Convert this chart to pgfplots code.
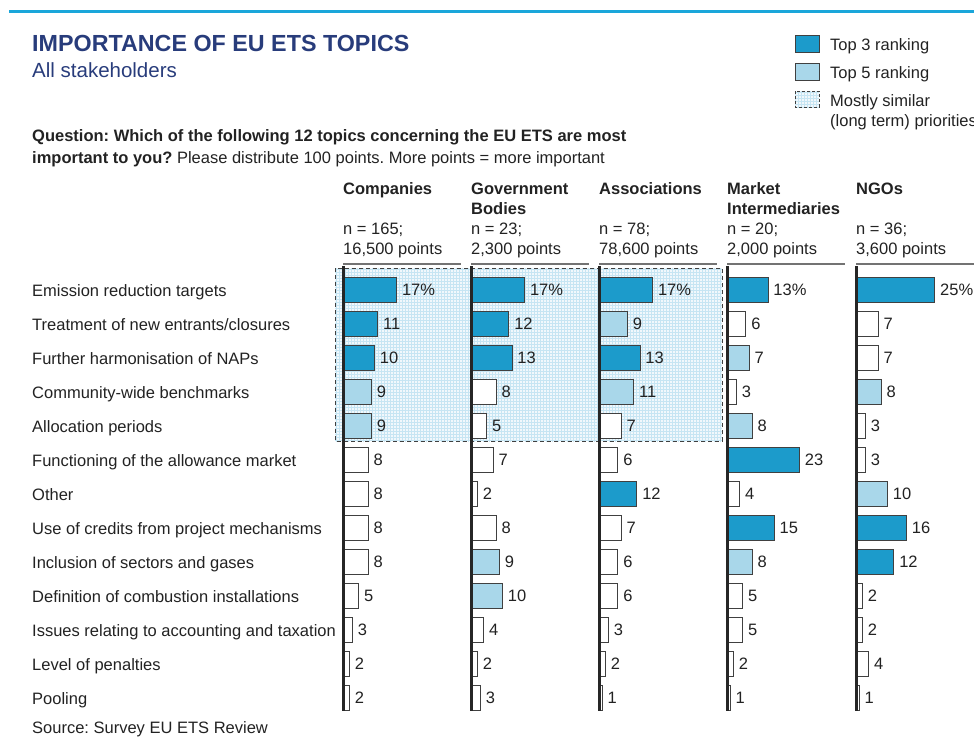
\documentclass[border=0pt]{standalone}
\usepackage{pgfplots}
\pgfplotsset{compat=1.18}
\usetikzlibrary{patterns}
\usepackage{fontspec}
\setmainfont{Liberation Sans}
\frenchspacing
\definecolor{topblue}{HTML}{1C9BCB}
\definecolor{lightblue}{HTML}{A9D7EA}
\definecolor{navy}{HTML}{283C7B}
\definecolor{rulec}{HTML}{1AA6DA}
\definecolor{txt}{HTML}{222222}
\definecolor{hl}{HTML}{F1F8FC}
\definecolor{hlgrid}{HTML}{C6E5F3}
\definecolor{edge}{HTML}{404040}
\newcommand{\fs}{\fontsize{16.5}{20}\selectfont}
\pgfplotsset{
  panel/.style={
    xbar, bar width=25pt,
    x=3.15pt, y=34pt, y dir=reverse,
    xmin=0, xmax=36, ymin=-0.7, ymax=12.4,
    axis y line=left, axis x line=none,
    axis line style={-, line width=3pt, draw=black!85},
    xtick=\empty, ytick=\empty,
    clip=false, axis on top,
    anchor=north west,
    point meta=explicit symbolic,
    nodes near coords,
    nodes near coords style={anchor=west, font=\fs, text=txt, inner sep=0pt, xshift=5pt},
    every axis plot/.append style={bar shift=0pt, draw=edge, line width=0.9pt},
  },
  dk/.style={fill=topblue},
  lt/.style={fill=lightblue},
  wt/.style={fill=white},
}
\begin{document}
\begin{tikzpicture}
\path[use as bounding box] (0,0) rectangle (974pt,-740pt);
% top rule
\draw[rulec, line width=3pt] (9pt,-11pt) -- (974pt,-11pt);
% title
\node[anchor=base west, inner sep=0pt, text=navy, font=\fontsize{23.3}{26}\selectfont\bfseries] at (32pt,-51pt) {IMPORTANCE OF EU ETS TOPICS};
\node[anchor=base west, inner sep=0pt, text=navy, font=\fontsize{20.5}{24}\selectfont] at (32pt,-77pt) {All stakeholders};
% legend
\draw[edge, line width=0.9pt, fill=topblue] (795pt,-35pt) rectangle (819pt,-52pt);
\draw[edge, line width=0.9pt, fill=lightblue] (795pt,-63pt) rectangle (819pt,-80pt);
\draw[edge, line width=0.9pt, dash pattern=on 3pt off 2pt, preaction={fill=hl}, pattern=grid, pattern color=hlgrid] (795pt,-91pt) rectangle (819pt,-107pt);
\node[anchor=base west, inner sep=0pt, text=txt, font=\fs] at (830pt,-50pt) {Top 3 ranking};
\node[anchor=base west, inner sep=0pt, text=txt, font=\fs] at (830pt,-78pt) {Top 5 ranking};
\node[anchor=base west, inner sep=0pt, text=txt, font=\fs] at (830pt,-106pt) {Mostly similar};
\node[anchor=base west, inner sep=0pt, text=txt, font=\fs] at (830pt,-126pt) {(long term) priorities};
% question
\node[anchor=base west, inner sep=0pt, text=txt, font=\fs\bfseries] at (32pt,-141pt) {Question: Which of the following 12 topics concerning the EU ETS are most};
\node[anchor=base west, inner sep=0pt, text=txt, font=\fs] at (32pt,-163pt) {\textbf{important to you?} Please distribute 100 points. More points = more important};
% highlight region
\draw[edge, line width=1pt, dash pattern=on 4pt off 3pt, preaction={fill=hl}, pattern=grid, pattern color=hlgrid] (335pt,-268pt) rectangle (722pt,-441pt);
% panel headers
\foreach \px/\ta/\tb/\na/\nb in {343/Companies//n = 165;/{16,500 points}, 471/Government/Bodies/n = 23;/{2,300 points}, 599/Associations//n = 78;/{78,600 points}, 727/Market/Intermediaries/n = 20;/{2,000 points}, 856/NGOs//n = 36;/{3,600 points}}{
  \node[anchor=base west, inner sep=0pt, text=txt, font=\fs\bfseries] at (\px pt,-194pt) {\ta};
  \node[anchor=base west, inner sep=0pt, text=txt, font=\fs\bfseries] at (\px pt,-214pt) {\tb};
  \node[anchor=base west, inner sep=0pt, text=txt, font=\fs] at (\px pt,-234pt) {\na};
  \node[anchor=base west, inner sep=0pt, text=txt, font=\fs] at (\px pt,-254pt) {\nb};
  \draw[black!55, line width=2pt] (\px pt,-264pt) -- ++(118pt,0);
}
% row labels
\foreach \lab [count=\i from 0] in {Emission reduction targets, Treatment of new entrants/closures, Further harmonisation of NAPs, Community-wide benchmarks, Allocation periods, Functioning of the allowance market, Other, Use of credits from project mechanisms, Inclusion of sectors and gases, Definition of combustion installations, Issues relating to accounting and taxation, Level of penalties, Pooling}{
  \pgfmathsetmacro\yy{-(296+34*\i)}
  \node[anchor=base west, inner sep=0pt, text=txt, font=\fs] at (32pt,\yy pt) {\lab};
}
\node[anchor=base west, inner sep=0pt, text=txt, font=\fs] at (32pt,-733pt) {Source: Survey EU ETS Review};

% Companies
\begin{axis}[panel, at={(343pt,-266pt)}]
\addplot[dk] coordinates {(17,0) [17\%] (11,1) [11] (10,2) [10]};
\addplot[lt] coordinates {(9,3) [9] (9,4) [9]};
\addplot[wt] coordinates {(8,5) [8] (8,6) [8] (8,7) [8] (8,8) [8] (5,9) [5] (3,10) [3] (2,11) [2] (2,12) [2]};
\end{axis}
% Government Bodies
\begin{axis}[panel, at={(471pt,-266pt)}]
\addplot[dk] coordinates {(17,0) [17\%] (12,1) [12] (13,2) [13]};
\addplot[lt] coordinates {(9,8) [9] (10,9) [10]};
\addplot[wt] coordinates {(8,3) [8] (5,4) [5] (7,5) [7] (2,6) [2] (8,7) [8] (4,10) [4] (2,11) [2] (3,12) [3]};
\end{axis}
% Associations
\begin{axis}[panel, at={(599pt,-266pt)}]
\addplot[dk] coordinates {(17,0) [17\%] (13,2) [13] (12,6) [12]};
\addplot[lt] coordinates {(9,1) [9] (11,3) [11]};
\addplot[wt] coordinates {(7,4) [7] (6,5) [6] (7,7) [7] (6,8) [6] (6,9) [6] (3,10) [3] (2,11) [2] (1,12) [1]};
\end{axis}
% Market Intermediaries
\begin{axis}[panel, at={(727pt,-266pt)}]
\addplot[dk] coordinates {(13,0) [13\%] (23,5) [23] (15,7) [15]};
\addplot[lt] coordinates {(7,2) [7] (8,4) [8] (8,8) [8]};
\addplot[wt] coordinates {(6,1) [6] (3,3) [3] (4,6) [4] (5,9) [5] (5,10) [5] (2,11) [2] (1,12) [1]};
\end{axis}
% NGOs
\begin{axis}[panel, at={(856pt,-266pt)}]
\addplot[dk] coordinates {(25,0) [25\%] (16,7) [16] (12,8) [12]};
\addplot[lt] coordinates {(8,3) [8] (10,6) [10]};
\addplot[wt] coordinates {(7,1) [7] (7,2) [7] (3,4) [3] (3,5) [3] (2,9) [2] (2,10) [2] (4,11) [4] (1,12) [1]};
\end{axis}
\end{tikzpicture}
\end{document}
